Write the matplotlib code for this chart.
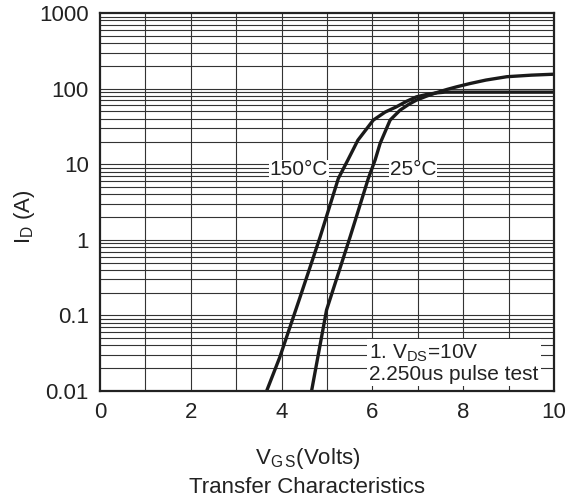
import numpy as np
import matplotlib.pyplot as plt

plt.rcParams['font.family'] = ['Liberation Sans', 'DejaVu Sans']

# values
vgs_150 = [3.67, 3.96, 4.41, 4.85, 5.25, 5.46, 5.68, 6.02, 6.28, 6.53, 6.75, 6.97, 7.20, 7.42, 7.60, 8.0, 9.0, 10.0]
id_150 = [0.01, 0.028, 0.177, 1.10, 6.5, 11.4, 20.8, 38.4, 49.0, 57.6, 68.0, 78.0, 84.0, 88.0, 90.0, 90.0, 90.0, 90.0]

vgs_25 = [4.66, 4.99, 5.51, 5.91, 6.06, 6.17, 6.39, 6.61, 6.80, 6.97, 7.20, 7.42, 7.65, 7.86, 8.15, 8.50, 8.96, 9.50, 9.95]
id_25 = [0.01, 0.118, 1.10, 6.5, 11.4, 18.9, 38.4, 52.0, 62.0, 70.6, 80.0, 89.0, 98.0, 106.0, 117.0, 130.0, 144.0, 151.0, 155.0]

xticks = [0, 2, 4, 6, 8, 10]
yticks = [0.01, 0.1, 1, 10, 100, 1000]
ytick_labels = ['0.01', '0.1', '1', '10', '100', '1000']

fig = plt.figure(figsize=(5.78, 5.04), dpi=100)
ax = fig.add_axes([0.173, 0.2242, 0.7855, 0.7498])

ax.set_yscale('log')
ax.set_xlim(0, 10)
ax.set_ylim(0.01, 1000)

# grid: every volt, every log minor step
for v in range(1, 10):
    ax.axvline(v, color='#333333', lw=0.8, zorder=1)
for dec in range(-2, 3):
    for m in range(1, 10):
        ax.axhline(m * 10.0**dec, color='#333333', lw=0.8, zorder=1)

ax.plot(vgs_150, id_150, color='#1a1a1a', lw=2.4, zorder=3, solid_joinstyle='round')
ax.plot(vgs_25, id_25, color='#1a1a1a', lw=2.4, zorder=3, solid_joinstyle='round')

txt_kw = dict(fontsize=15, ha='center', va='center', zorder=4, color='#222222',
              bbox=dict(facecolor='white', edgecolor='none', pad=0.5))
ax.text(4.38, 8.4, '150°C', **txt_kw)
ax.text(6.89, 8.4, '25°C', **txt_kw)

ax.text(5.93, 0.0125, '1. V$_{\\mathregular{DS}}$=10V\n2.250us pulse test', fontsize=15,
        ha='left', va='bottom', linespacing=1.05, zorder=4, color='#222222',
        bbox=dict(facecolor='white', edgecolor='none', pad=1.5))

ax.set_xticks(xticks)
ax.set_yticks(yticks)
ax.set_yticklabels(ytick_labels)
ax.yaxis.set_minor_locator(plt.NullLocator())
ax.tick_params(length=0, labelsize=16, colors='#222222')
ax.tick_params(axis='x', pad=8)
ax.tick_params(axis='y', pad=8)

for s in ax.spines.values():
    s.set_linewidth(1.6)
    s.set_color('#222222')
    s.set_zorder(5)

fig.text(0.042, 0.57, 'I$_{\\mathregular{D}}$ (A)', fontsize=16, rotation=90,
         ha='center', va='center', color='#222222')
fig.text(0.533, 0.09, 'V$_{\\mathregular{G\\,S}}$(Volts)', fontsize=16, ha='center', va='center', color='#222222')
fig.text(0.531, 0.032, 'Transfer Characteristics', fontsize=16, ha='center', va='center', color='#222222')

fig.savefig('out.png', dpi=100)
